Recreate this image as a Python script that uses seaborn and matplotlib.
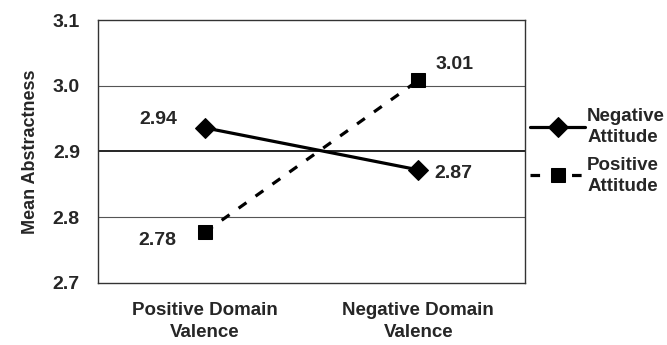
import pandas as pd
import matplotlib.pyplot as plt
import seaborn as sns

sns.set_theme(style="white")
plt.rcParams['font.family'] = ['Liberation Sans', 'DejaVu Sans']
plt.rcParams['font.weight'] = 'bold'

categories = ['Positive Domain\nValence', 'Negative Domain\nValence']
series_names = ['Negative\nAttitude', 'Positive\nAttitude']
negative_attitude = [2.936, 2.872]
positive_attitude = [2.777, 3.008]
label_neg = ['2.94', '2.87']
label_pos = ['2.78', '3.01']
y_ticks = [2.7, 2.8, 2.9, 3.0, 3.1]

df = pd.DataFrame({
    'x': list(range(len(categories))) * 2,
    'value': negative_attitude + positive_attitude,
    'series': [series_names[0]] * 2 + [series_names[1]] * 2,
})

fig = plt.figure(figsize=(6.67, 3.45), dpi=100)
ax = fig.add_axes([0.147, 0.18, 0.64, 0.762])

# gridlines
for yv in y_ticks[1:-1]:
    mid = abs(yv - 2.9) < 1e-9
    ax.axhline(yv, color='black' if mid else '#555555', lw=1.2 if mid else 0.8, zorder=0)

sns.lineplot(data=df, x='x', y='value', hue='series', style='series',
             palette=['black', 'black'], markers={series_names[0]: 'D', series_names[1]: 's'},
             dashes={series_names[0]: '', series_names[1]: (3, 3.5)},
             markersize=10.5, linewidth=2.3, markeredgecolor='black', ax=ax)

ax.set_xlim(-0.5, 1.5)
ax.set_ylim(2.7, 3.1)
ax.set_yticks(y_ticks)
ax.set_yticklabels([f'{v:.1f}' for v in y_ticks], fontsize=14, fontweight='bold')
ax.set_xticks([-0.5, 0.5, 1.5])
ax.set_xticklabels([])
ax.set_xticks([0, 1], minor=True)
ax.set_xticklabels(categories, minor=True, fontsize=13.5, fontweight='bold')
for t in ax.get_xticklabels(minor=True):
    t.set_linespacing(1.35)
ax.tick_params(axis='x', which='minor', length=0, pad=14)
ax.tick_params(axis='x', which='major', direction='out', length=4, width=0.8, color='black')
ax.tick_params(axis='y', direction='out', length=4, width=0.8, color='black', pad=9)
ax.set_xlabel('')
ax.set_ylabel('Mean Abstractness', fontsize=13, fontweight='bold')
ax.yaxis.set_label_coords(-0.138, 0.5)
for s in ax.spines.values():
    s.set_color('#333333')
    s.set_linewidth(1.0)

# data labels
lab = dict(ha='center', va='center', fontsize=14, fontweight='bold')
ax.text(-0.219, 2.948, label_neg[0], **lab)
ax.text(1.163, 2.867, label_neg[1], **lab)
ax.text(-0.224, 2.764, label_pos[0], **lab)
ax.text(1.172, 3.032, label_pos[1], **lab)

leg = ax.legend(loc='center left', bbox_to_anchor=(1.012, 0.50), frameon=False,
                fontsize=13.5, handlelength=2.95, handletextpad=0.1, labelspacing=0.55,
                borderaxespad=0.0, borderpad=0.0)
for t in leg.get_texts():
    t.set_fontweight('bold')
    t.set_linespacing(1.3)

fig.savefig('out.png', dpi=100)
